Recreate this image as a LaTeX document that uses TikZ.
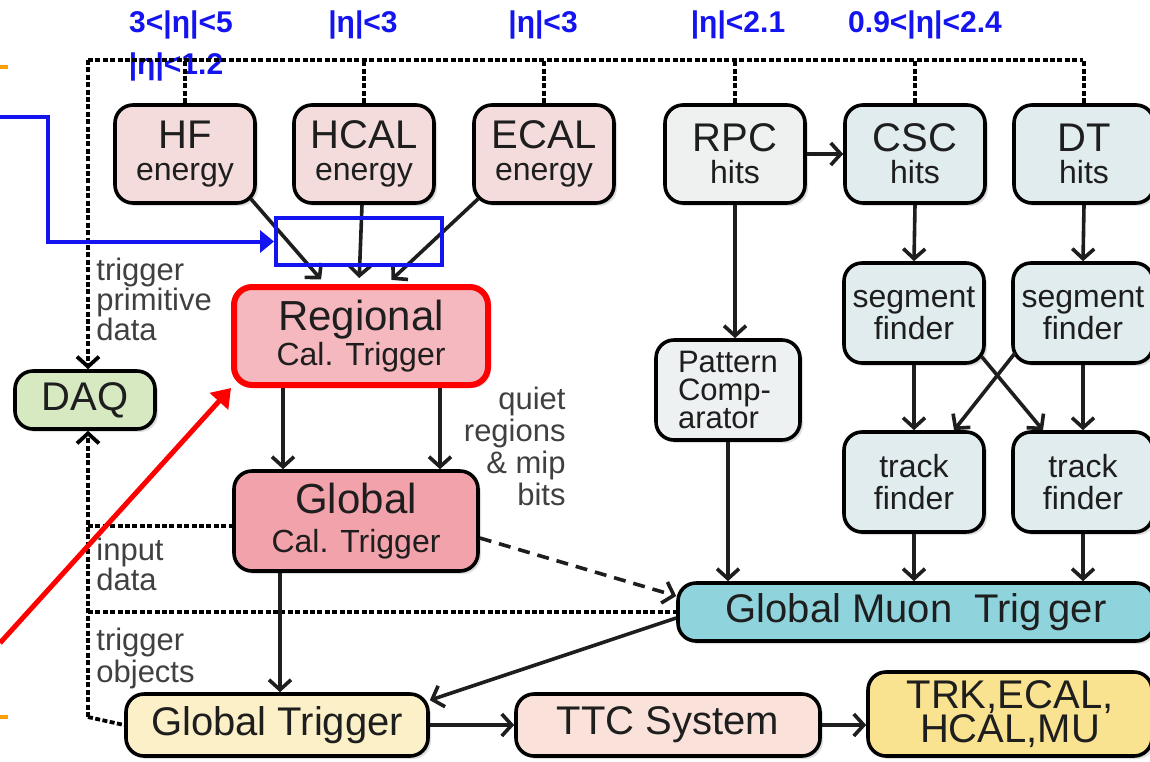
\documentclass[tikz,border=0pt]{standalone}
\usepackage{fontspec}
\setmainfont{Liberation Sans}
\usetikzlibrary{positioning, arrows.meta, shadows}
\definecolor{ink}{HTML}{1E1E1E}
\definecolor{calpink}{HTML}{F4DCDC}
\definecolor{regpink}{HTML}{F6B8BF}
\definecolor{gcalpink}{HTML}{F2A2AA}
\definecolor{daqgreen}{HTML}{D6E9C0}
\definecolor{rpcgray}{HTML}{EFF0F0}
\definecolor{mubox}{HTML}{E0ECEE}
\definecolor{patgray}{HTML}{EEF1F1}
\definecolor{gmtcyan}{HTML}{8FD4DD}
\definecolor{gtyellow}{HTML}{FCF0C9}
\definecolor{ttcpink}{HTML}{FAE2DB}
\definecolor{trkyellow}{HTML}{F9E290}
\definecolor{etablue}{HTML}{1414F0}
\definecolor{annred}{HTML}{FF0000}
\definecolor{annorange}{HTML}{FFA000}
\newcommand{\subfont}{\fontsize{16}{15}\selectfont}
\tikzset{%
	>={Straight Barb[length=5pt,width=11pt]},
	box/.style = {draw=black, line width=1.8pt, rounded corners=9pt, align=center, inner sep=1pt, text=ink,
		drop shadow={shadow xshift=1.5pt, shadow yshift=-1.5pt, opacity=.25}},
	cal/.style = {box, fill=calpink, minimum width=70pt, minimum height=49pt, font=\fontsize{20}{16}\selectfont},
	muon/.style = {box, fill=mubox, minimum width=70pt, minimum height=49pt, font=\fontsize{20}{16}\selectfont},
	finder/.style = {box, fill=mubox, minimum width=70pt, minimum height=50pt, font=\fontsize{16}{16}\selectfont},
	wide/.style = {box, minimum height=31pt, font=\fontsize{20}{17}\selectfont},
	conn/.style = {line width=1.8pt, draw=ink},
	bus/.style = {line width=1.9pt, dash pattern=on 2.5pt off 1.2pt},
	lbl/.style = {align=left, text=ink!85, font=\fontsize{15.5}{15}\selectfont, inner sep=0pt},
	eta/.style = {text=etablue, font=\fontsize{15}{15}\selectfont\bfseries, inner sep=0pt}
}
\begin{document}
\begin{tikzpicture}[x=0.5pt, y=-0.5pt]
	\useasboundingbox (0,0) rectangle (1150,761);
	\node [cal] (HF) at (185,154) {HF\\{\subfont energy}};
	\node [cal] (HCAL) at (364,154) {HCAL\\{\subfont energy}};
	\node [cal] (ECAL) at (544,154) {ECAL\\{\subfont energy}};
	\node [muon, fill=rpcgray] (RPC) at (735,154) {RPC\\{\subfont hits}};
	\node [muon] (CSC) at (915,154) {CSC\\{\subfont hits}};
	\node [muon] (DT) at (1084,154) {DT\\{\subfont hits}};
	\node [box, draw=annred, line width=3pt, fill=regpink, minimum width=127pt, minimum height=49pt, font=\fontsize{21}{17.5}\selectfont] (Reg) at (361,336) {Regional\\{\subfont Cal. Trigger}};
	\node [box, fill=gcalpink, minimum width=122pt, minimum height=50pt, font=\fontsize{21}{19.5}\selectfont] (GCal) at (356,521) {Global\\{\subfont Cal. Trigger}};
	\node [box, fill=daqgreen, minimum width=70pt, minimum height=29pt, font=\fontsize{20}{20}\selectfont] (DAQ) at (85,400) {DAQ};
	\node [box, fill=patgray, align=left, minimum width=72pt, minimum height=50pt, font=\fontsize{15.5}{14}\selectfont] (Pat) at (728,390) {Pattern\\Comp-\\arator};
	\node [finder] (seg1) at (914,313) {segment\\finder};
	\node [finder] (seg2) at (1083,313) {segment\\finder};
	\node [finder] (trk1) at (914,482) {track\\finder};
	\node [finder] (trk2) at (1083,482) {track\\finder};
	\node [wide, fill=gmtcyan, minimum width=238pt, minimum height=29pt] (GMT) at (916,612) {Global Muon~ Trig\,ger};
	\node [wide, fill=gtyellow, minimum width=151pt] (GT) at (277,725) {Global Trigger};
	\node [wide, fill=ttcpink, minimum width=152pt] (TTC) at (668,725) {TTC System};
	\node [wide, fill=trkyellow, minimum width=142pt, minimum height=42pt] (TRK) at (1010,714) {TRK,ECAL,\\HCAL,MU};

	\node [lbl, anchor=north west] (tpd) at (96,258) {trigger\\primitive\\data};
	\node [lbl, align=right, anchor=north east, font=\fontsize{15.5}{16}\selectfont] (quiet) at (566,387) {quiet\\regions\\\& mip\\bits};
	\node [lbl, anchor=north west] (inp) at (96,538) {input\\data};
	\node [lbl, anchor=north west, font=\fontsize{15.5}{16}\selectfont] (tobj) at (96,628) {trigger\\objects};

	\node [eta] (etaHF) at (181,25) {3<|η|<5};
	\node [eta] (etaHFb) at (176,67) {|η|<1.2};
	\node [eta] (etaHCAL) at (363,25) {|η|<3};
	\node [eta] (etaECAL) at (543,25) {|η|<3};
	\node [eta] (etaRPC) at (738,25) {|η|<2.1};
	\node [eta] (etaCSC) at (925,25) {0.9<|η|<2.4};

	\coordinate (busL) at (88,60);
	\coordinate (busR) at (1083,60);
	\coordinate (busB) at (88,717);
	\draw [bus] (busL) -- (busR);
	\foreach \n in {HF,HCAL,ECAL,RPC,CSC,DT}
		\draw [bus] (\n.north) -- (\n.north |- busL);
	\draw [bus, ->] (busL) -- (busL |- DAQ.north);
	\draw [bus, ->] (busB) -- (busB |- DAQ.south);
	\draw [bus] (busB) -- (GT.west);
	\draw [bus] ([yshift=-2.5pt]busL |- GCal.west) -- ([yshift=-2.5pt]GCal.west);
	\draw [bus] (busL |- GMT.west) -- (GMT.west);

	\draw [->, conn, shorten >=3pt] ([xshift=-3pt,yshift=3pt]HF.south east) -- ([xshift=-18pt]Reg.north);
	\draw [->, conn, shorten >=3pt] ([xshift=-1pt]HCAL.south) -- ([xshift=-1pt]Reg.north);
	\draw [->, conn, shorten >=3pt] ([xshift=3pt,yshift=3pt]ECAL.south west) -- ([xshift=13pt]Reg.north);
	\draw [->, conn] ([xshift=-39pt]Reg.south) -- ([xshift=-39pt]Reg.south |- GCal.north);
	\draw [->, conn] ([xshift=39.5pt]Reg.south) -- ([xshift=39.5pt]Reg.south |- GCal.north);
	\draw [->, conn] ([xshift=-38pt]GCal.south) -- ([xshift=-38pt]GCal.south |- GT.north);
	\draw [->, conn] (RPC.east) -- (CSC.west);
	\draw [->, conn] (RPC.south) -- (RPC.south |- Pat.north);
	\draw [->, conn] (Pat.south) -- (Pat.south |- GMT.north);
	\draw [->, conn] (CSC.south) -- (seg1.north);
	\draw [->, conn] (DT.south) -- (seg2.north);
	\draw [->, conn] (seg1.south) -- (trk1.north);
	\draw [->, conn] (seg2.south) -- (trk2.north);
	\draw [->, conn] ([xshift=-2pt,yshift=4pt]seg1.south east) -- ([xshift=-20pt]trk2.north);
	\draw [->, conn] ([xshift=2pt,yshift=6pt]seg2.south west) -- ([xshift=20pt]trk1.north);
	\draw [->, conn] (trk1.south) -- (trk1.south |- GMT.north);
	\draw [->, conn] (trk2.south) -- (trk2.south |- GMT.north);
	\draw [->, conn, dash pattern=on 6pt off 4pt] ([yshift=-8.5pt]GCal.east) -- ([yshift=8pt]GMT.west);
	\draw [->, conn] ([yshift=-3pt]GMT.west) -- ([yshift=-4pt]GT.north east);
	\draw [->, conn] (GT.east) -- (TTC.west);
	\draw [->, conn] (TTC.east) -- (TTC.east -| TRK.west);

	\node [draw=etablue, line width=2pt, minimum width=83pt, minimum height=23.5pt, inner sep=0pt] (focus) at (359,241.5) {};
	\coordinate (blueIn) at (0,117);
	\draw [etablue, line width=2pt, -{Triangle[length=7pt,width=11pt]}] (blueIn) -- ++(48,0) |- (focus.west);
	\coordinate (redIn) at (0,643);
	\draw [annred, line width=2.5pt, -{Triangle[length=9pt,width=12pt]}] (redIn) -- (Reg.south west);
	\draw [annorange, line width=2pt] (0,67) -- (8,67);
	\draw [annorange, line width=2pt] (0,717) -- (8,717);
\end{tikzpicture}
\end{document}
